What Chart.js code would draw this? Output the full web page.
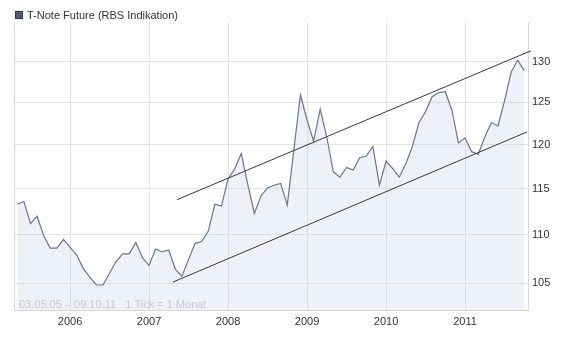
<!DOCTYPE html>
<html>
<head>
<meta charset="utf-8">
<script src="https://cdn.jsdelivr.net/npm/chart.js@4/dist/chart.umd.min.js"></script>
<style>
html,body{margin:0;padding:0;background:#fff;}
canvas{display:block;}
</style>
</head>
<body>
<canvas id="c" width="578" height="356"></canvas>
<script>
// Monthly points (1 Tick = 1 Monat), May 2005 .. Oct 2011
const months = [
 '2005-05','2005-06','2005-07','2005-08','2005-09','2005-10','2005-11','2005-12',
 '2006-01','2006-02','2006-03','2006-04','2006-05','2006-06','2006-07','2006-08','2006-09','2006-10','2006-11','2006-12',
 '2007-01','2007-02','2007-03','2007-04','2007-05','2007-06','2007-07','2007-08','2007-09','2007-10','2007-11','2007-12',
 '2008-01','2008-02','2008-03','2008-04','2008-05','2008-06','2008-07','2008-08','2008-09','2008-10','2008-11','2008-12',
 '2009-01','2009-02','2009-03','2009-04','2009-05','2009-06','2009-07','2009-08','2009-09','2009-10','2009-11','2009-12',
 '2010-01','2010-02','2010-03','2010-04','2010-05','2010-06','2010-07','2010-08','2010-09','2010-10','2010-11','2010-12',
 '2011-01','2011-02','2011-03','2011-04','2011-05','2011-06','2011-07','2011-08','2011-09','2011-10'
];
const tnoteValues = [
 113.3,113.6,111.2,112.0,109.9,108.6,108.6,109.5,
 108.7,107.9,106.5,105.6,104.8,104.8,106.0,107.2,108.0,108.0,109.2,107.6,
 106.8,108.5,108.2,108.4,106.4,105.7,107.4,109.1,109.3,110.4,113.3,113.1,
 116.1,117.2,119.0,115.5,112.3,114.2,115.1,115.4,115.6,113.2,119.4,125.9,
 122.9,120.4,124.2,120.9,116.9,116.3,117.4,117.1,118.5,118.7,119.8,115.4,
 118.1,117.3,116.3,117.8,119.8,122.6,123.9,125.7,126.2,126.3,124.1,120.2,
 120.8,119.2,118.9,120.9,122.6,122.2,125.2,128.7,130.2,128.9
];
// Trend channel lines (decimal year, value)
const upperTrendX = [2007.354, 2011.835];
const upperTrendY = [113.8, 131.4];
const lowerTrendX = [2007.304, 2011.785];
const lowerTrendY = [105.1, 121.5];
// Axis ticks
const yearTicks = [2006, 2007, 2008, 2009, 2010, 2011];
const priceTicks = [105, 110, 115, 120, 125, 130];
const seriesName = 'T-Note Future (RBS Indikation)';
const footerText = '03.05.05 \u2013 09.10.11   1 Tick = 1 Monat';

function monthToYear(m) {
  const [y, mo] = m.split('-').map(Number);
  return y + (mo - 1) / 12;
}

const FONT = 'Arial, "Liberation Sans", sans-serif';

const extras = {
  id: 'extras',
  beforeDatasetsDraw(chart) {
    const ctx = chart.ctx, a = chart.chartArea;
    ctx.save();
    ctx.strokeStyle = '#d6d6d6';
    ctx.lineWidth = 1;
    ctx.beginPath();
    ctx.moveTo(Math.round(a.left) + 0.5, a.top);
    ctx.lineTo(Math.round(a.left) + 0.5, a.bottom);
    ctx.stroke();
    ctx.restore();
  },
  afterDraw(chart) {
    const ctx = chart.ctx, a = chart.chartArea;
    ctx.save();
    // legend
    ctx.fillStyle = '#4a5888';
    ctx.fillRect(15, 11, 8, 8);
    ctx.strokeStyle = '#2c3658';
    ctx.lineWidth = 1;
    ctx.strokeRect(15.5, 11.5, 7, 7);
    ctx.fillStyle = '#333333';
    ctx.font = '11px ' + FONT;
    ctx.textBaseline = 'middle';
    ctx.textAlign = 'left';
    ctx.fillText(seriesName, 27, 15.5);
    // footer info inside plot
    ctx.fillStyle = '#c6cad8';
    ctx.textBaseline = 'alphabetic';
    ctx.fillText(footerText, a.left + 5, a.bottom - 2);
    ctx.restore();
  }
};

new Chart(document.getElementById('c'), {
  type: 'line',
  data: {
    datasets: [
      {
        label: seriesName,
        data: months.map((m, i) => ({ x: monthToYear(m), y: tnoteValues[i] })),
        borderColor: '#6c7492',
        borderWidth: 1.2,
        backgroundColor: 'rgba(196,205,232,0.28)',
        fill: 'start',
        pointRadius: 0,
        tension: 0,
        order: 2
      },
      {
        label: 'upper',
        data: upperTrendX.map((x, i) => ({ x, y: upperTrendY[i] })),
        borderColor: '#383838',
        borderWidth: 1,
        pointRadius: 0,
        fill: false,
        clip: 6,
        order: 1
      },
      {
        label: 'lower',
        data: lowerTrendX.map((x, i) => ({ x, y: lowerTrendY[i] })),
        borderColor: '#383838',
        borderWidth: 1,
        pointRadius: 0,
        fill: false,
        clip: 6,
        order: 1
      }
    ]
  },
  options: {
    responsive: false,
    devicePixelRatio: 1,
    animation: false,
    layout: { padding: { left: 14, top: 22, right: 0, bottom: 0 } },
    plugins: { legend: { display: false }, tooltip: { enabled: false } },
    scales: {
      x: {
        type: 'linear',
        min: 2005.291,
        max: 2011.797,
        afterBuildTicks: s => { s.ticks = yearTicks.map(v => ({ value: v })); },
        afterFit: s => { s.height = 46; },
        ticks: {
          callback: v => String(v),
          color: '#333333',
          font: { family: FONT, size: 11 },
          padding: 5,
          maxRotation: 0,
          autoSkip: false
        },
        grid: { color: '#e4e4e4', lineWidth: 1, drawTicks: false },
        border: { display: true, color: '#d6d6d6' }
      },
      y: {
        type: 'logarithmic',
        position: 'right',
        min: 102.3,
        max: 135.1,
        afterBuildTicks: s => { s.ticks = priceTicks.map(v => ({ value: v })); },
        afterFit: s => { s.width = 50; },
        ticks: {
          callback: v => String(v),
          color: '#333333',
          font: { family: FONT, size: 11 },
          padding: 4,
          autoSkip: false
        },
        grid: { color: '#e4e4e4', lineWidth: 1, drawTicks: false },
        border: { display: true, color: '#d6d6d6' }
      }
    }
  },
  plugins: [extras]
});
</script>
</body>
</html>
